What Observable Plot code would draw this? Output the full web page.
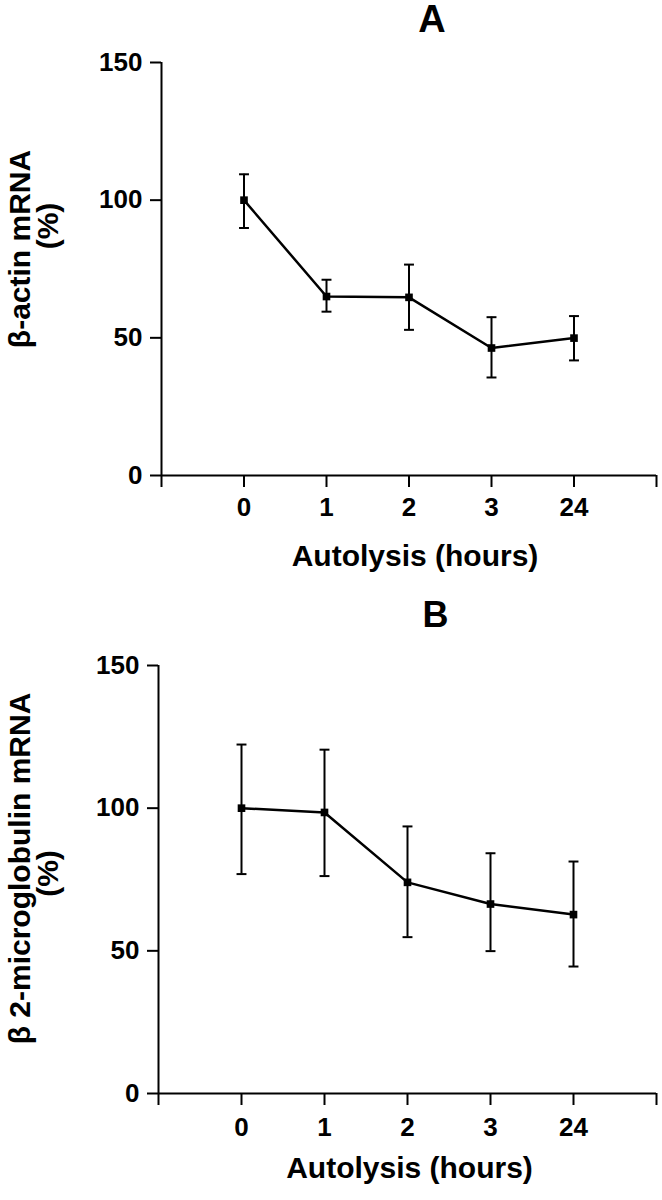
<!DOCTYPE html>
<html>
<head>
<meta charset="utf-8">
<script src="https://cdn.jsdelivr.net/npm/d3@7"></script>
<script src="https://cdn.jsdelivr.net/npm/@observablehq/plot@0.6"></script>
<style>
  html, body { margin: 0; padding: 0; background: #fff; }
  #chart svg { display: block; }
</style>
</head>
<body>
<div id="chart"></div>
<script>
// ---- data ----
const hours = ["0", "1", "2", "3", "24"];
const yTicks = [0, 50, 100, 150];

// Panel A: beta-actin mRNA (%)
const actinMean = [100, 65, 64.7, 46.3, 49.9];
const actinLow  = [89.9, 59.5, 52.9, 35.6, 41.8];
const actinHigh = [109.4, 71.1, 76.6, 57.5, 57.9];

// Panel B: beta2-microglobulin mRNA (%)
const b2mMean = [100, 98.5, 74, 66.4, 62.7];
const b2mLow  = [76.9, 76.2, 54.8, 49.9, 44.5];
const b2mHigh = [122.3, 120.5, 93.6, 84.2, 81.3];

const FONT = "'Liberation Sans', Arial, Helvetica, sans-serif";

// horizontal cap symbol for error bars
const capSymbol = {
  draw(context, size) {
    const w = Math.sqrt(size) / 2;
    context.moveTo(-w, 0);
    context.lineTo(w, 0);
  }
};

function panel(opts) {
  const rows = hours.map((h, i) => ({
    pos: i, hour: h, mean: opts.mean[i], low: opts.low[i], high: opts.high[i]
  }));
  const txt = { fontWeight: "bold", fill: "#000", lineAnchor: "middle", textAnchor: "middle" };
  return Plot.plot({
    width: 662,
    height: 600,
    marginTop: opts.mt,
    marginBottom: opts.mb,
    marginLeft: opts.ml,
    marginRight: 6,
    style: { fontFamily: FONT, fontWeight: "bold", color: "#000", background: "#fff", overflow: "visible" },
    x: { domain: [-1, hours.length], axis: null },
    y: { domain: [0, 150], axis: null },
    marks: [
      // axis lines
      Plot.ruleY([0], { stroke: "#000", strokeWidth: 2 }),
      Plot.ruleX([-1], { stroke: "#000", strokeWidth: 2 }),
      Plot.axisY({
        ticks: yTicks, tickSize: 11, tickPadding: 8, fontSize: 26, fontWeight: "bold",
        stroke: "#000", strokeWidth: 2, label: null
      }),
      Plot.axisX({
        ticks: d3.range(-1, hours.length + 1), tickSize: 12, tickPadding: opts.xPad,
        tickFormat: (d) => hours[d] ?? "", fontSize: 26, fontWeight: "bold",
        stroke: "#000", strokeWidth: 2, label: null
      }),
      // error bars
      Plot.ruleX(rows, { x: "pos", y1: "low", y2: "high", stroke: "#000", strokeWidth: 2 }),
      Plot.dot(rows, { x: "pos", y: "low", symbol: capSymbol, r: 5.6, stroke: "#000", strokeWidth: 2, fill: "none" }),
      Plot.dot(rows, { x: "pos", y: "high", symbol: capSymbol, r: 5.6, stroke: "#000", strokeWidth: 2, fill: "none" }),
      // line and markers
      Plot.line(rows, { x: "pos", y: "mean", stroke: "#000", strokeWidth: 2.5 }),
      Plot.dot(rows, { x: "pos", y: "mean", symbol: "square", r: 4.3, fill: "#000", stroke: "none" }),
      // panel letter
      Plot.text([opts.title], { ...txt, frameAnchor: "top", dx: opts.titleDx, dy: opts.titleDy, fontSize: opts.titleSize }),
      // y-axis label (two lines)
      Plot.text([opts.yl1], { ...txt, frameAnchor: "left", rotate: -90, dx: opts.yl1dx, dy: opts.yl1dy, fontSize: 30 }),
      Plot.text([opts.yl2], { ...txt, frameAnchor: "left", rotate: -90, dx: opts.yl2dx, dy: opts.yl2dy, fontSize: 30 }),
      // x-axis label
      Plot.text(["Autolysis (hours)"], { ...txt, frameAnchor: "bottom", dx: opts.xlDx, dy: opts.xlDy, fontSize: 30 })
    ]
  });
}

const chart = document.getElementById("chart");
chart.append(panel({
  mean: actinMean, low: actinLow, high: actinHigh,
  mt: 62, mb: 125, ml: 161, xPad: 10,
  title: "A", titleSize: 38, titleDx: 23, titleDy: -43,
  yl1: "β-actin mRNA", yl1dx: -141, yl1dy: -20,
  yl2: "(%)", yl2dx: -113, yl2dy: -43,
  xlDx: 6, xlDy: 81
}));
chart.append(panel({
  mean: b2mMean, low: b2mLow, high: b2mHigh,
  mt: 65, mb: 107, ml: 158, xPad: 12,
  title: "B", titleSize: 36, titleDx: 28, titleDy: -50,
  yl1: "β 2-microglobulin mRNA", yl1dx: -138, yl1dy: -11,
  yl2: "(%)", yl2dx: -110, yl2dy: -6,
  xlDx: 2, xlDy: 75
}));
</script>
</body>
</html>
